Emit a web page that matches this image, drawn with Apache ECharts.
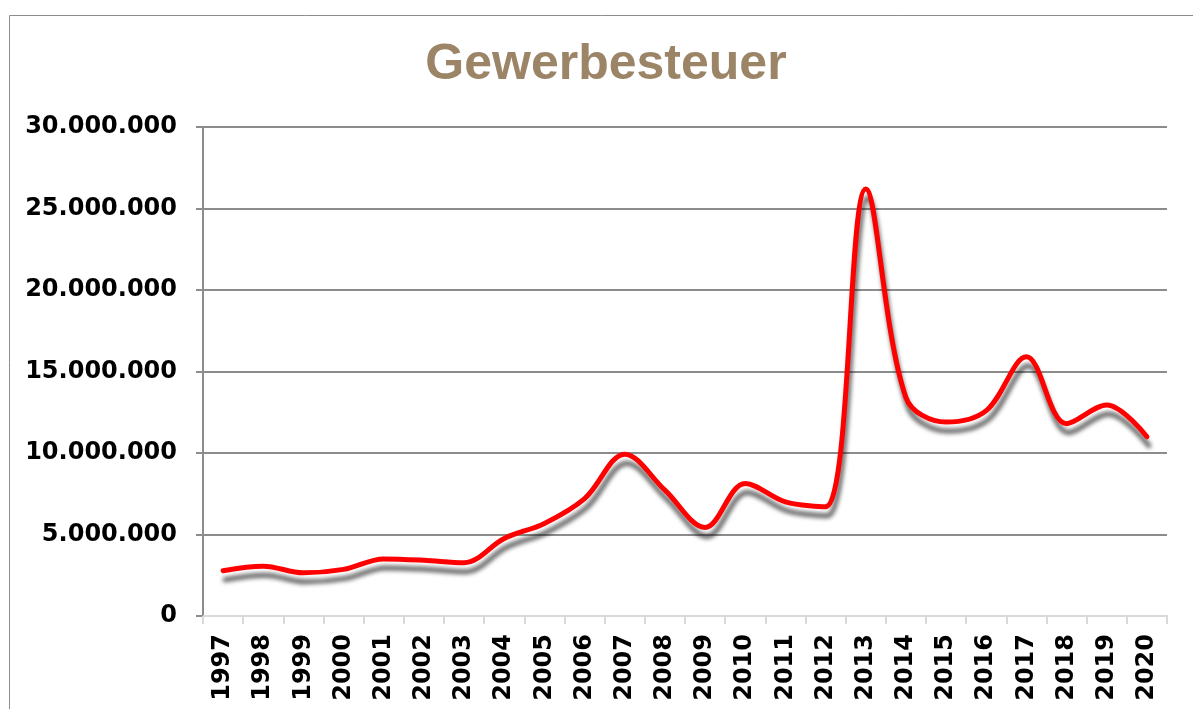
<!DOCTYPE html>
<html>
<head>
<meta charset="utf-8">
<title>Gewerbesteuer</title>
<script src="https://cdn.jsdelivr.net/npm/echarts@6/dist/echarts.min.js"></script>
<style>
  html, body { margin: 0; padding: 0; background: #fff; }
  #chart { width: 1193px; height: 709px; }
</style>
</head>
<body>
<div id="chart"></div>
<script>
const years = ["1997", "1998", "1999", "2000", "2001", "2002", "2003", "2004",
  "2005", "2006", "2007", "2008", "2009", "2010", "2011", "2012",
  "2013", "2014", "2015", "2016", "2017", "2018", "2019", "2020"];

const steuer = [2780000, 3050000, 2650000, 2860000, 3500000, 3420000, 3270000, 4760000,
  5680000, 7200000, 9930000, 7720000, 5430000, 8130000, 7000000, 6700000,
  26200000, 13400000, 11900000, 12600000, 15900000, 11800000, 12950000, 11000000];

const yMin = 0;
const yMax = 30000000;
const yStep = 5000000;

// 30000000 -> "30.000.000"
const formatDe = (v) => String(v).replace(/\B(?=(\d{3})+(?!\d))/g, ".");

const chart = echarts.init(document.getElementById("chart"));

const option = {
  animation: false,
  backgroundColor: "#ffffff",
  title: {
    text: "Gewerbesteuer",
    left: 601,
    textAlign: "center",
    top: 35,
    textStyle: {
      fontFamily: "Liberation Sans",
      fontWeight: "bold",
      fontSize: 50,
      color: "#9c8466",
    },
  },
  graphic: [
    {
      type: "rect",
      silent: true,
      shape: { x: 9.5, y: 15.5, width: 1300, height: 800 },
      style: { fill: "none", stroke: "#8c8c8c", lineWidth: 1 },
    },
  ],
  grid: {
    left: 203,
    right: 26,
    top: 127,
    bottom: 93,
    containLabel: false,
  },
  xAxis: {
    type: "category",
    data: years,
    boundaryGap: true,
    axisLine: { lineStyle: { color: "#d9d9d9", width: 2 } },
    axisTick: { show: true, length: 8, lineStyle: { color: "#d9d9d9", width: 2 } },
    axisLabel: {
      rotate: 90,
      interval: 0,
      margin: 18,
      fontFamily: "DejaVu Sans",
      fontWeight: "bold",
      fontSize: 24,
      color: "#000000",
    },
  },
  yAxis: {
    type: "value",
    min: yMin,
    max: yMax,
    interval: yStep,
    axisLine: { show: true, lineStyle: { color: "#8c8c8c", width: 2 } },
    axisTick: { show: true, length: 7, lineStyle: { color: "#8c8c8c", width: 2 } },
    splitLine: { lineStyle: { color: "#8c8c8c", width: 2 } },
    axisLabel: {
      margin: 26,
      fontFamily: "DejaVu Sans",
      fontWeight: "bold",
      fontSize: 24,
      color: "#000000",
      formatter: formatDe,
    },
  },
  series: [
    {
      name: "Gewerbesteuer",
      type: "line",
      data: steuer,
      smooth: 0.35,
      showSymbol: false,
      lineStyle: {
        color: "#ff0000",
        width: 5,
        cap: "round",
        shadowColor: "rgba(0, 0, 0, 0.6)",
        shadowBlur: 4,
        shadowOffsetX: 2,
        shadowOffsetY: 9,
      },
    },
  ],
};

chart.setOption(option);

window.addEventListener("resize", () => {
  chart.resize();
});
</script>
</body>
</html>
